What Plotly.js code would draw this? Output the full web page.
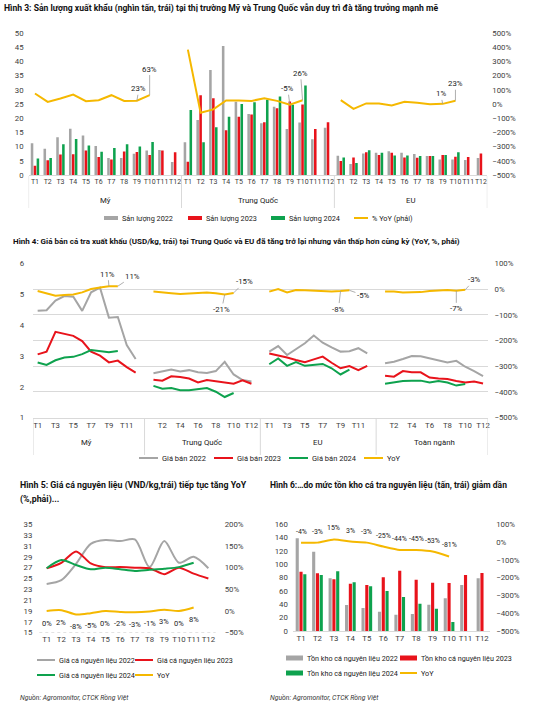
<!DOCTYPE html>
<html><head><meta charset="utf-8">
<script src="https://cdn.plot.ly/plotly-3.0.1.min.js"></script>
<style>html,body{margin:0;padding:0;background:#fff;}#c{width:536px;height:719px;}</style>
</head><body><div id="c"></div>
<script>
// ---------------- DATA ----------------
const months = ['T1','T2','T3','T4','T5','T6','T7','T8','T9','T10','T11','T12'];

// Hình 3: sản lượng (nghìn tấn) & YoY (%)
const markets3 = ['Mỹ','Trung Quốc','EU'];
const vol2022_US = [11.2,9.2,13.3,16.3,13.9,10.2,6.0,6.0,7.5,8.6,8.8,4.6];
const vol2023_US = [3.3,5.2,7.2,7.3,8.6,6.3,5.5,8.3,8.1,7.0,8.6,8.0];
const vol2024_US = [5.8,6.0,10.8,12.7,10.4,8.2,9.5,10.8,10.0,11.6,null,null];
const vol2022_CN = [11.5,19.4,37.0,45.4,25.8,21.5,18.2,24.0,16.2,18.5,12.6,16.6];
const vol2023_CN = [4.7,28.1,27.0,15.8,20.5,21.3,18.6,23.5,25.9,24.8,16.2,18.6];
const vol2024_CN = [22.9,11.5,16.8,20.5,25.0,25.6,26.5,27.6,24.7,31.5,null,null];
const vol2022_EU = [6.8,3.9,7.6,7.8,8.4,7.8,7.4,6.7,5.5,5.5,5.3,6.0];
const vol2023_EU = [4.9,6.2,8.0,7.0,7.8,6.2,6.1,6.7,7.0,6.4,6.3,7.6];
const vol2024_EU = [6.2,4.2,8.7,7.8,6.9,6.9,6.7,6.7,7.0,8.0,null,null];
const yoy3_US = [74,15,39,67,20,27,62,22,23,63];
const yoy3_CN = [383,-62,-38,25,25,22,41,22,-5,26];
const yoy3_EU = [27,-34,4,4,-10,15,8,-1,1,23];

// Hình 4: giá bán (USD/kg) & YoY (%)
const markets4 = ['Mỹ','Trung Quốc','EU','Toàn ngành'];
const price2022_US = [4.46,4.48,4.79,4.94,4.92,4.46,5.06,5.21,4.24,4.26,3.35,2.90];
const price2023_US = [3.05,3.14,3.78,3.72,3.65,3.48,3.14,3.01,2.79,2.85,2.64,2.46];
const price2024_US = [2.79,2.71,2.86,2.95,2.97,3.06,3.19,3.16,3.12,3.16];
const yoy4_US = [-8,-17,-26,-23,-21,-13,0,6,11,11];
const price2022_CN = [2.44,2.51,2.56,2.50,2.54,2.47,2.45,2.51,2.81,2.40,2.22,2.17];
const price2023_CN = [2.23,2.20,2.34,2.32,2.27,2.14,2.22,2.18,2.14,2.10,2.21,2.10];
const price2024_CN = [2.03,1.94,1.96,1.89,1.89,1.92,1.96,1.84,1.67,1.80];
const yoy4_CN = [-10,-12,-16,-19,-17,-13,-13,-16,-21,-15];
const price2022_EU = [3.14,3.32,3.03,3.21,3.41,3.66,3.43,3.28,3.14,3.15,3.25,3.08];
const price2023_EU = [3.08,3.02,2.95,2.87,2.80,2.89,2.98,2.78,2.60,2.67,2.54,2.68];
const price2024_EU = [2.73,2.92,2.68,2.80,2.68,2.71,2.74,2.60,2.40,2.56];
const yoy4_EU = [-10,0,-13,-4,-5,-6,-8,-10,-8,-5];
const price2022_ALL = [2.76,2.81,2.90,3.00,2.99,2.92,2.84,2.79,2.84,2.65,2.51,2.35];
const price2023_ALL = [2.36,2.33,2.51,2.47,2.47,2.30,2.27,2.25,2.19,2.14,2.17,2.11];
const price2024_ALL = [2.10,2.14,2.19,2.20,2.20,2.14,2.19,2.14,2.04,2.09];
const yoy4_ALL = [-10,-10,-13,-13,-12,-8,-6,-4,-7,-3];

// Hình 5: giá cá nguyên liệu (nghìn VND/kg) & YoY (%)
const raw2022 = [24.0,24.7,27.7,31.4,32.1,31.9,32.2,27.1,31.9,27.9,29.0,26.9];
const raw2023 = [26.9,27.9,30.0,27.8,27.1,27.1,27.0,26.9,25.8,27.0,25.9,25.0];
const raw2024 = [26.9,28.4,27.5,26.7,27.0,26.7,26.4,26.6,26.8,27.1,27.9];
const yoy5 = [0,2,-8,-5,0,-2,-3,-1,3,0,8];

// Hình 6: tồn kho cá nguyên liệu (tấn) & YoY (%)
const inv2022 = [139,119,79,39,34.5,29,24.5,25.5,39.5,49,69,79];
const inv2023 = [89,86.5,77.5,71,69,80.5,90.5,77,72.5,72,84,87];
const inv2024 = [85,84,89.5,73,67,60,51,41,33.5,13.5];
const yoy6 = [-4,-3,15,3,-3,-25,-44,-45,-53,-81];

// ---------------- STYLE / HELPERS ----------------
const W=536, H=719;
const px = x => x/W, py = y => 1 - y/H;
const FONT = "Roboto, 'Liberation Sans', sans-serif";
const COL = {g:'#a5a5a5', r:'#e8131b', gr:'#0ea24e', y:'#f5b800', grid:'#d9d9d9'};
const TF = {family:FONT, size:7.8, color:'#404040'};
const LF = {family:FONT, size:7.8, color:'#222'};

const traces = [], shapes = [], annotations = [];

function text(x, y, s, opt) {
  annotations.push(Object.assign({xref:'paper', yref:'paper', x:px(x), y:py(y), text:s,
    showarrow:false, xanchor:'left', yanchor:'middle', font:LF}, opt||{}));
}
function legItem(kind, color, x, y, w, h, label, fs) {
  if (kind === 'bar') {
    shapes.push({type:'rect', xref:'paper', yref:'paper', x0:px(x), x1:px(x+w), y0:py(y+h/2), y1:py(y-h/2),
      fillcolor:color, line:{width:0}});
  } else {
    shapes.push({type:'line', xref:'paper', yref:'paper', x0:px(x), x1:px(x+w), y0:py(y), y1:py(y),
      line:{color:color, width:2}});
  }
  text(x+w+2, y, label, {font:{family:FONT, size:fs, color:'#222'}});
}

// ---------------- HÌNH 3 ----------------
const g3 = [
  {v22:vol2022_US, v23:vol2023_US, v24:vol2024_US, yoy:yoy3_US},
  {v22:vol2022_CN, v23:vol2023_CN, v24:vol2024_CN, yoy:yoy3_CN},
  {v22:vol2022_EU, v23:vol2023_EU, v24:vol2024_EU, yoy:yoy3_EU}
];
const slot3 = (gi, mi) => gi*12 + mi;
[['v22',COL.g,-0.33],['v23',COL.r,-0.1],['v24',COL.gr,0.13]].forEach(([k,c,off])=>{
  const t = {x:[], y:[], type:'bar', marker:{color:c}, offset:off, width:0.2, xaxis:'x', yaxis:'y', hoverinfo:'skip'};
  g3.forEach((g,gi)=>g[k].forEach((v,mi)=>{ t.x.push(slot3(gi,mi)); t.y.push(v); }));
  traces.push(t);
});
{
  const x=[], y=[];
  g3.forEach((g,gi)=>{ g.yoy.forEach((v,mi)=>{ x.push(slot3(gi,mi)); y.push(v); }); x.push(slot3(gi,11)); y.push(null); });
  traces.push({x, y, type:'scatter', mode:'lines', line:{color:COL.y, width:2}, xaxis:'x', yaxis:'y2', connectgaps:false, hoverinfo:'skip'});
}
const off3 = [[[2,-12],[0,-26]],[[-2,-16],[-2,-27]],[[-2,-10],[0,-17]]];
g3.forEach((g,gi)=>[8,9].forEach((mi,k)=>{
  annotations.push({xref:'x', yref:'y2', x:slot3(gi,mi), y:g.yoy[mi], text:g.yoy[mi]+'%',
    showarrow:true, arrowhead:0, arrowwidth:0.8, arrowcolor:'#9a9a9a', standoff:0,
    ax:off3[gi][k][0], ay:off3[gi][k][1], font:LF});
}));
markets3.forEach((m,gi)=>annotations.push({xref:'x', yref:'paper', x:slot3(gi,5.5), y:py(201), text:m,
  showarrow:false, yanchor:'middle', font:LF}));
[-0.5,11.5,23.5,35.5].forEach(s=>shapes.push({type:'line', xref:'x', yref:'paper', x0:s, x1:s, y0:py(176), y1:py(208),
  line:{color:COL.grid, width:1}}));

// ---------------- HÌNH 4 ----------------
const g4 = [
  {p22:price2022_US, p23:price2023_US, p24:price2024_US, yoy:yoy4_US},
  {p22:price2022_CN, p23:price2023_CN, p24:price2024_CN, yoy:yoy4_CN},
  {p22:price2022_EU, p23:price2023_EU, p24:price2024_EU, yoy:yoy4_EU},
  {p22:price2022_ALL, p23:price2023_ALL, p24:price2024_ALL, yoy:yoy4_ALL}
];
const slot4 = (gi, mi) => gi*13 + mi;
[['p22',COL.g,'y3'],['p23',COL.r,'y3'],['p24',COL.gr,'y3'],['yoy',COL.y,'y4']].forEach(([k,c,ya])=>{
  const x=[], y=[];
  g4.forEach((g,gi)=>{ g[k].forEach((v,mi)=>{ x.push(slot4(gi,mi)); y.push(v); }); x.push(slot4(gi,12)); y.push(null); });
  traces.push({x, y, type:'scatter', mode:'lines', line:{color:c, width:2}, xaxis:'x2', yaxis:ya, connectgaps:false, hoverinfo:'skip'});
});
const off4 = [[[-1,-12],[15,-10]],[[-3,15],[11,-11]],[[-2,18],[14,5]],[[0,18],[9,-10]]];
g4.forEach((g,gi)=>[8,9].forEach((mi,k)=>{
  annotations.push({xref:'x2', yref:'y4', x:slot4(gi,mi), y:g.yoy[mi], text:g.yoy[mi]+'%',
    showarrow:true, arrowhead:0, arrowwidth:0.8, arrowcolor:'#9a9a9a', standoff:0,
    ax:off4[gi][k][0], ay:off4[gi][k][1], font:LF});
}));
markets4.forEach((m,gi)=>annotations.push({xref:'x2', yref:'paper', x:slot4(gi,5.5), y:py(442), text:m,
  showarrow:false, yanchor:'middle', font:LF}));
[-0.5,12,25,38,50.5].forEach(s=>shapes.push({type:'line', xref:'x2', yref:'paper', x0:s, x1:s, y0:py(418), y1:py(455),
  line:{color:COL.grid, width:1}}));
const tv4=[], tt4=[];
g4.forEach((g,gi)=>months.forEach((m,mi)=>{ const s=slot4(gi,mi); if(s%2===0){ tv4.push(s); tt4.push(m); } }));

// ---------------- HÌNH 5 ----------------
const mi12 = months.map((m,i)=>i);
[[raw2022,COL.g],[raw2023,COL.r],[raw2024,COL.gr]].forEach(([arr,c])=>{
  traces.push({x:mi12.slice(0,arr.length), y:arr, type:'scatter', mode:'lines', line:{color:c, width:2, shape:'spline', smoothing:0.8},
    xaxis:'x3', yaxis:'y5', hoverinfo:'skip'});
});
traces.push({x:mi12.slice(0,yoy5.length), y:yoy5, type:'scatter', mode:'lines',
  line:{color:COL.y, width:2, shape:'spline', smoothing:0.8}, xaxis:'x3', yaxis:'y6', hoverinfo:'skip'});
yoy5.forEach((v,i)=>annotations.push({xref:'x3', yref:'y6', x:i, y:v, text:v+'%', showarrow:false,
  yshift:-12, font:{family:FONT, size:7.5, color:'#222'}}));
shapes.push({type:'line', xref:'x3 domain', yref:'y5', x0:0, x1:1, y0:15, y1:15, line:{color:'#cfcfcf', width:1, dash:'dot'}});

// ---------------- HÌNH 6 ----------------
[[inv2022,COL.g,-0.325],[inv2023,COL.r,-0.095],[inv2024,COL.gr,0.135]].forEach(([arr,c,off])=>{
  traces.push({x:mi12.slice(0,arr.length), y:arr, type:'bar', marker:{color:c}, offset:off, width:0.19,
    xaxis:'x4', yaxis:'y7', hoverinfo:'skip'});
});
traces.push({x:mi12.slice(0,yoy6.length), y:yoy6, type:'scatter', mode:'lines',
  line:{color:COL.y, width:2, shape:'spline', smoothing:0.6}, xaxis:'x4', yaxis:'y8', hoverinfo:'skip'});
yoy6.forEach((v,i)=>annotations.push({xref:'x4', yref:'y8', x:i, y:v, text:v+'%', showarrow:false,
  yshift:11, font:{family:FONT, size:7, color:'#222'}}));

// ---------------- TITLES / LEGENDS / SOURCES ----------------
const tf = s => ({family:FONT, size:s, color:'#111'});
text(2, 8, '<b>Hình 3: Sản lượng xuất khẩu (nghìn tấn, trái) tại thị trường Mỹ và Trung Quốc vẫn duy trì đà tăng trưởng mạnh mẽ</b>', {font:tf(8.6)});
text(11, 241, '<b>Hình 4: Giá bán cá tra xuất khẩu (USD/kg, trái) tại Trung Quốc và EU đã tăng trở lại nhưng vẫn thấp hơn cùng kỳ (YoY, %, phải)</b>', {font:tf(8.0)});
text(18, 485, '<b>Hình 5: Giá cá nguyên liệu (VND/kg,trái) tiếp tục tăng YoY</b>', {font:tf(8.8)});
text(18, 499, '<b>(%,phải)...</b>', {font:tf(8.8)});
text(268, 485, '<b>Hình 6:…do mức tồn kho cá tra nguyên liệu (tấn, trái) giảm dần</b>', {font:tf(8.5)});
const SF = {family:FONT, size:6.8, color:'#333'};
text(18, 698, '<i>Nguồn: Agromonitor, CTCK Rồng Việt</i>', {font:SF});
text(268, 698, '<i>Nguồn: Agromonitor, CTCK Rồng Việt</i>', {font:SF});

legItem('bar', COL.g, 104, 218, 14, 4, 'Sản lượng 2022', 7.3);
legItem('bar', COL.r, 188, 218, 14, 4, 'Sản lượng 2023', 7.3);
legItem('bar', COL.gr, 271, 218, 14, 4, 'Sản lượng 2024', 7.3);
legItem('line', COL.y, 354, 218, 14, 0, '% YoY (phải)', 7.3);

legItem('line', COL.g, 139, 458, 19, 0, 'Giá bán 2022', 7.5);
legItem('line', COL.r, 214, 458, 19, 0, 'Giá bán 2023', 7.5);
legItem('line', COL.gr, 289, 458, 19, 0, 'Giá bán 2024', 7.5);
legItem('line', COL.y, 364, 458, 19, 0, 'YoY', 7.5);

legItem('line', COL.g, 37, 660, 18, 0, 'Giá cá nguyên liệu 2022', 7.2);
legItem('line', COL.r, 135, 660, 18, 0, 'Giá cá nguyên liệu 2023', 7.2);
legItem('line', COL.gr, 37, 675, 18, 0, 'Giá cá nguyên liệu 2024', 7.2);
legItem('line', COL.y, 135, 675, 18, 0, 'YoY', 7.2);

legItem('bar', COL.g, 286, 658, 17, 5, 'Tồn kho cá nguyên liệu 2022', 7.2);
legItem('bar', COL.r, 400, 658, 17, 5, 'Tồn kho cá nguyên liệu 2023', 7.2);
legItem('bar', COL.gr, 286, 673, 17, 5, 'Tồn kho cá nguyên liệu 2024', 7.2);
legItem('line', COL.y, 400, 673, 17, 0, 'YoY', 7.2);

// ---------------- AXES ----------------
const baseX = {showgrid:false, zeroline:false, ticks:'', tickfont:TF, tickangle:0, fixedrange:true};
const baseY = {showgrid:false, zeroline:false, ticks:'', tickfont:TF, fixedrange:true, tickmode:'linear'};
const tv3 = [], tt3 = [];
g3.forEach((g,gi)=>months.forEach((m,mi)=>{ tv3.push(slot3(gi,mi)); tt3.push(m); }));

const layout = {
  width:W, height:H, margin:{l:0,r:0,t:0,b:0}, paper_bgcolor:'#fff', plot_bgcolor:'rgba(0,0,0,0)',
  showlegend:false, barmode:'overlay', font:{family:FONT, size:8, color:'#333'},
  xaxis: Object.assign({}, baseX, {domain:[px(28.6),px(487.3)], range:[-0.5,35.5], tickmode:'array', tickvals:tv3, ticktext:tt3,
    tickfont:{family:FONT, size:7, color:'#404040'}, showline:true, linecolor:COL.grid, anchor:'y'}),
  yaxis: Object.assign({}, baseY, {domain:[py(175),py(33)], range:[0,50], dtick:5, tick0:0, anchor:'x', ticklabelstandoff:4}),
  yaxis2: Object.assign({}, baseY, {overlaying:'y', side:'right', anchor:'x', range:[-500,500], dtick:100, tick0:0, ticksuffix:'%', ticklabelstandoff:4}),

  xaxis2: Object.assign({}, baseX, {domain:[px(33.2),px(487.5)], range:[-0.5,50.5], tickmode:'array', tickvals:tv4, ticktext:tt4,
    showline:true, linecolor:COL.grid, anchor:'y3'}),
  yaxis3: Object.assign({}, baseY, {domain:[py(417.7),py(263.3)], range:[1,6], dtick:1, tick0:0, anchor:'x2', ticklabelstandoff:8}),
  yaxis4: Object.assign({}, baseY, {overlaying:'y3', side:'right', anchor:'x2', range:[-500,100], dtick:100, tick0:0, ticksuffix:'%',
    showgrid:true, gridcolor:COL.grid, gridwidth:1, ticklabelstandoff:6}),

  xaxis3: Object.assign({}, baseX, {domain:[px(39.3),px(215.7)], range:[-0.5,11.5], tickmode:'array', tickvals:mi12, ticktext:months, anchor:'y5'}),
  yaxis5: Object.assign({}, baseY, {domain:[py(632.7),py(524.3)], range:[15,35], dtick:2, tick0:15, anchor:'x3', ticklabelstandoff:6}),
  yaxis6: Object.assign({}, baseY, {overlaying:'y5', side:'right', anchor:'x3', range:[-50,200], dtick:50, tick0:0, ticksuffix:'%', ticklabelstandoff:8}),

  xaxis4: Object.assign({}, baseX, {domain:[px(292.8),px(490.2)], range:[-0.5,11.5], tickmode:'array', tickvals:mi12, ticktext:months,
    showline:true, linecolor:COL.grid, anchor:'y7'}),
  yaxis7: Object.assign({}, baseY, {domain:[py(631),py(524.3)], range:[0,160], dtick:20, tick0:0, anchor:'x4', ticklabelstandoff:4}),
  yaxis8: Object.assign({}, baseY, {overlaying:'y7', side:'right', anchor:'x4', range:[-500,100], dtick:100, tick0:0, ticksuffix:'%', ticklabelstandoff:5}),

  shapes:shapes, annotations:annotations
};
Plotly.newPlot('c', traces, layout, {staticPlot:true, displayModeBar:false});
</script></body></html>
